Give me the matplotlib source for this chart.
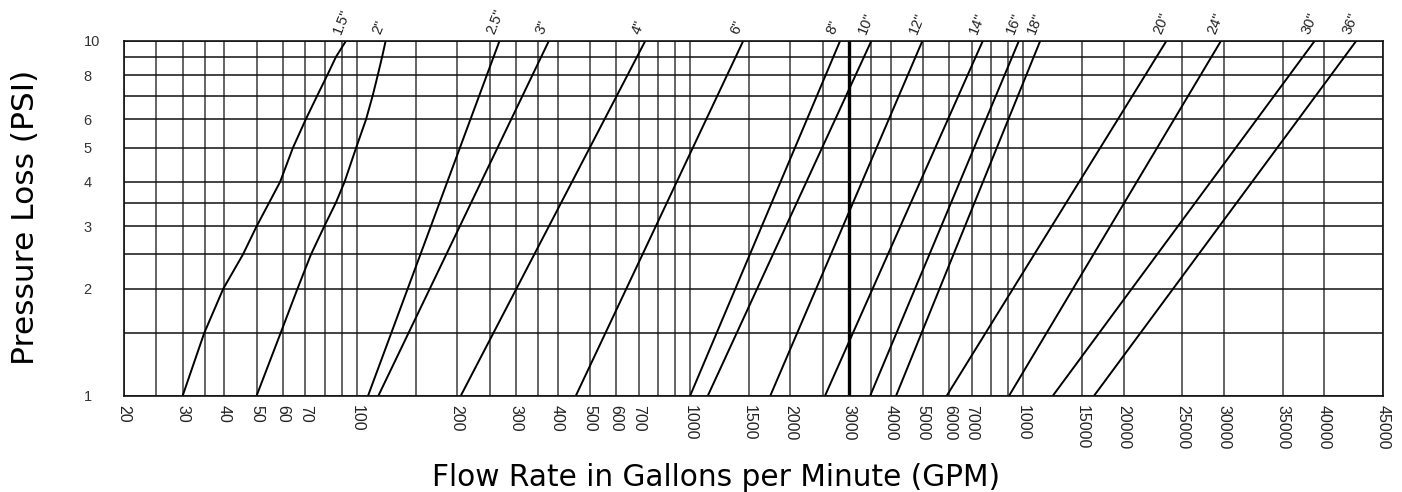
import numpy as np
import matplotlib.pyplot as plt
from matplotlib.ticker import NullFormatter

# grid and tick values (GPM on x, PSI on y)
flow_grid = [20, 25, 30, 35, 40, 50, 60, 70, 80, 90, 100, 150,
             200, 250, 300, 350, 400, 500, 600, 700, 800, 900, 1000, 1500,
             2000, 2500, 3000, 3500, 4000, 5000, 6000, 7000, 8000, 9000, 10000,
             15000, 20000, 25000, 30000, 35000, 40000, 45000]
flow_ticks = [20, 30, 40, 50, 60, 70, 100, 200, 300, 400, 500, 600, 700,
              1000, 1500, 2000, 3000, 4000, 5000, 6000, 7000, 10000, 15000,
              20000, 25000, 30000, 35000, 40000, 45000]
flow_tick_labels = ['20', '30', '40', '50', '60', '70', '100', '200', '300',
                    '400', '500', '600', '700', '1000', '1500', '2000', '3000',
                    '4000', '5000', '6000', '7000', '1000', '15000', '20000',
                    '25000', '30000', '35000', '40000', '45000']
psi_grid = [1, 1.5, 2, 2.5, 3, 3.5, 4, 5, 6, 7, 8, 9, 10]
psi_ticks = [1, 2, 3, 4, 5, 6, 8, 10]

# curved pipes
pipe_15_psi = [1, 1.5, 2, 2.5, 3, 4, 5, 6, 7, 8, 9, 10]
pipe_15_gpm = [30, 34.8, 39.7, 45.5, 50, 58.8, 64.3, 70.2, 76, 81.5, 86.5, 92.8]
pipe_2_psi = [1, 1.5, 2, 2.5, 3, 3.5, 4, 5, 6, 7, 8, 9, 10]
pipe_2_gpm = [50, 59, 66.3, 72.8, 79.8, 86.5, 91.8, 99.5, 106.5, 111.5, 115.5, 119, 122]

# straight pipes: flow at 1 psi and at 10 psi
pipe_sizes = ['2.5"', '3"', '4"', '6"', '8"', '10"', '12"', '14"', '16"', '18"',
              '20"', '24"', '30"', '36"']
gpm_at_1psi = [108, 116, 205, 454, 1000, 1130, 1740, 2540, 3470, 4150,
               5890, 9060, 12260, 16300]
gpm_at_10psi = [268, 377, 734, 1444, 2820, 3500, 4980, 7560, 9700, 11240,
                23540, 29620, 38800, 42660]

# the printed axis is logarithmic up to 20000, then the labels step unevenly
scale_labels = np.log10([1, 20000, 25000, 30000, 35000, 40000, 45000])
scale_equiv = np.log10([1, 20000, 30000, 40000, 60000, 80000, 120000])


def fwd(x):
    x = np.clip(np.asarray(x, dtype=float), 1e-6, None)
    return np.interp(np.log10(x), scale_labels, scale_equiv)


def inv(u):
    return 10 ** np.interp(np.asarray(u, dtype=float), scale_equiv, scale_labels)


fig = plt.figure(figsize=(14.02, 4.92), dpi=100)
ax = fig.add_axes([124 / 1402, 1 - 395.7 / 492, 1259 / 1402, 355 / 492])

ax.set_xscale('function', functions=(fwd, inv))
ax.set_yscale('log')
ax.set_xlim(20, 45000)
ax.set_ylim(1, 10)

ax.set_xticks(flow_ticks)
ax.set_xticklabels(flow_tick_labels, rotation=270, family='Liberation Sans',
                   fontsize=11.5, color='#222222')
ax.set_xticks(flow_grid, minor=True)
ax.set_yticks(psi_ticks)
ax.set_yticklabels([str(p) for p in psi_ticks], family='Liberation Sans',
                   fontsize=10.5, color='#333333')
ax.set_yticks(psi_grid, minor=True)
ax.xaxis.set_minor_formatter(NullFormatter())
ax.yaxis.set_minor_formatter(NullFormatter())
for lbl in ax.get_yticklabels():
    lbl.set_ha('left')

ax.tick_params(axis='both', which='both', length=0)
ax.tick_params(axis='x', pad=7)
ax.tick_params(axis='y', pad=29)

ax.grid(True, which='both', axis='x', color='#3a3a3a', lw=1.1)
ax.grid(True, which='both', axis='y', color='#111111', lw=1.1)
ax.axvline(3000, color='black', lw=2.4)
for s in ax.spines.values():
    s.set_linewidth(1.2)
    s.set_color('#111111')

line_kw = dict(color='black', lw=1.4, solid_capstyle='butt')
ax.plot(pipe_15_gpm, pipe_15_psi, **line_kw)
ax.plot(pipe_2_gpm, pipe_2_psi, **line_kw)
for lo, hi in zip(gpm_at_1psi, gpm_at_10psi):
    ax.plot([lo, hi], [1, 10], **line_kw)

label_names = ['1.5"', '2"'] + pipe_sizes
label_tops = [pipe_15_gpm[-1], pipe_2_gpm[-1]] + gpm_at_10psi
for name, top in zip(label_names, label_tops):
    ax.annotate(name, xy=(top, 10), xytext=(-2, 3), textcoords='offset points',
                rotation=68, rotation_mode='anchor', ha='left', va='bottom',
                fontsize=10.5, family='Liberation Sans', color='#222222',
                annotation_clip=False)

fig.text(716 / 1402, 1 - 478 / 492, 'Flow Rate in Gallons per Minute (GPM)',
         ha='center', va='center', fontsize=21.3, family='DejaVu Sans')
fig.text(26 / 1402, 1 - 217 / 492, 'Pressure Loss (PSI)', rotation=90,
         ha='center', va='center', fontsize=22.5, family='DejaVu Sans')

fig.savefig('out.png', dpi=100)
